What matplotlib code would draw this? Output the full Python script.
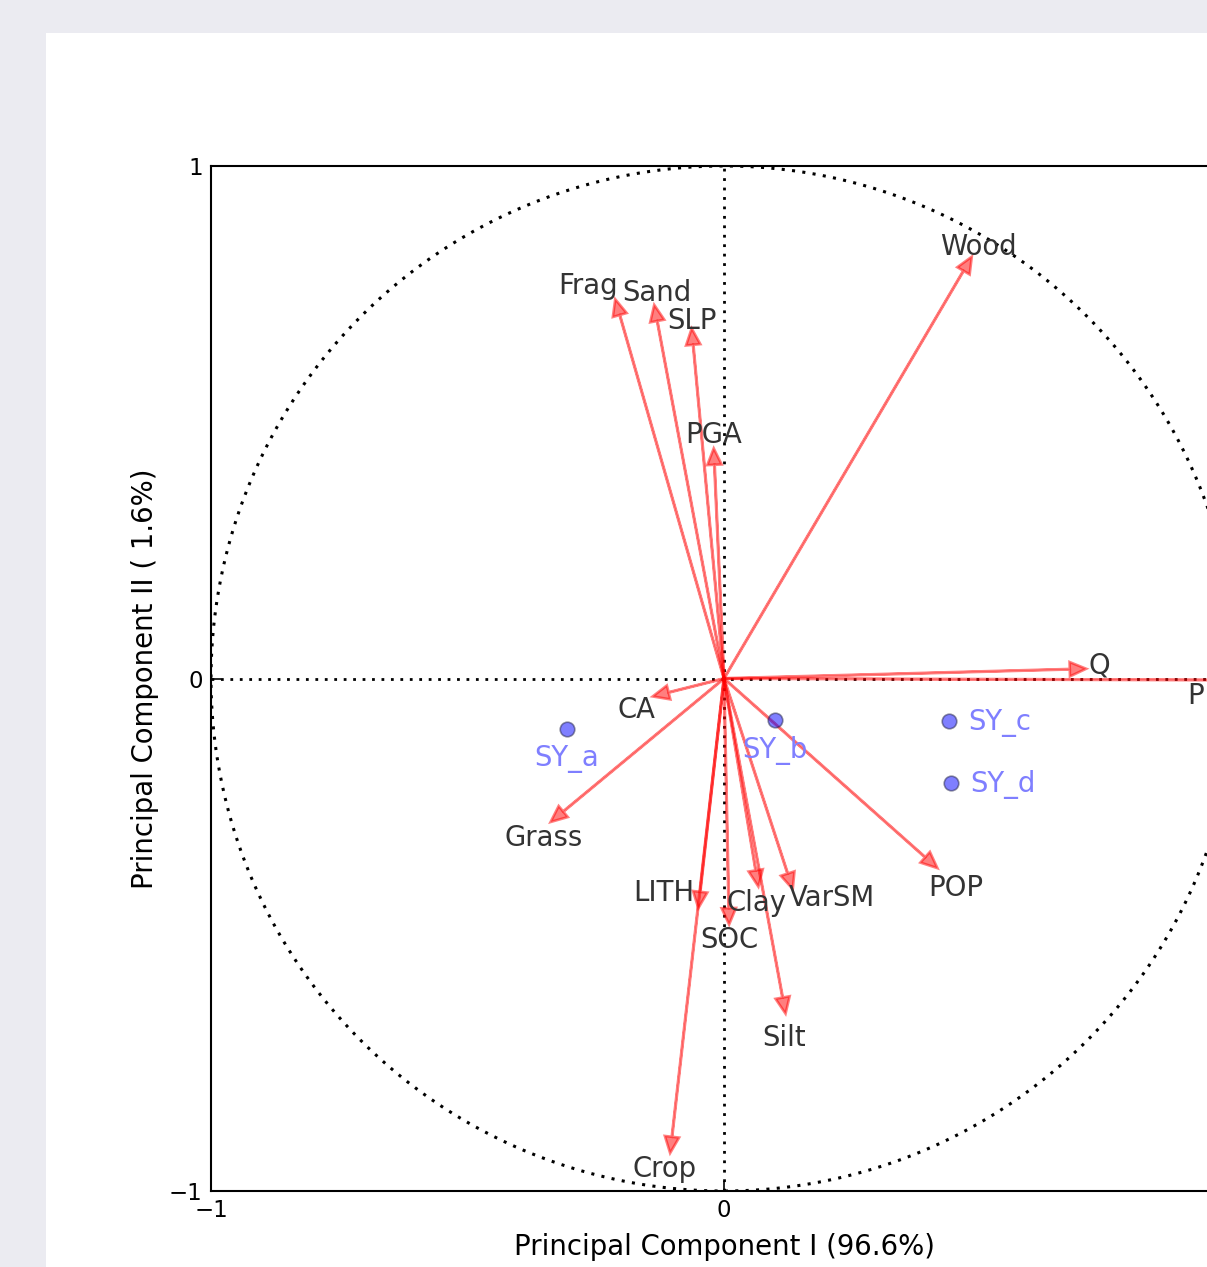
import numpy as np
import matplotlib
matplotlib.use("Agg")
import matplotlib.pyplot as plt
from matplotlib.patches import Rectangle

# PCA loadings of the catchment variables on PC I and PC II
variables = ["Frag", "Sand", "SLP", "PGA", "Wood", "Q", "P", "CA", "Grass",
             "LITH", "SOC", "Clay", "Silt", "VarSM", "POP", "Crop"]
pc1_loading = [-0.212, -0.136, -0.063, -0.020, 0.483, 0.706, 0.985, -0.139, -0.338,
               -0.050, 0.010, 0.067, 0.120, 0.134, 0.416, -0.105]
pc2_loading = [0.740, 0.729, 0.683, 0.449, 0.823, 0.019, -0.003, -0.035, -0.280,
               -0.448, -0.480, -0.406, -0.654, -0.411, -0.370, -0.926]

# sediment-yield sites projected on the same plane
sites = ["SY_a", "SY_b", "SY_c", "SY_d"]
site_pc1 = [-0.307, 0.099, 0.438, 0.442]
site_pc2 = [-0.098, -0.080, -0.083, -0.203]

# label anchor points (data units)
var_label_xy = [(-0.265, 0.765), (-0.131, 0.753), (-0.063, 0.698), (-0.021, 0.475),
                (0.495, 0.841), (0.731, 0.026), (0.920, -0.034), (-0.170, -0.062),
                (-0.352, -0.311), (-0.117, -0.419), (0.010, -0.511), (0.064, -0.439),
                (0.117, -0.702), (0.211, -0.429), (0.452, -0.409), (-0.115, -0.958)]
site_label_xy = [(-0.307, -0.157, "center"), (0.099, -0.140, "center"),
                 (0.476, -0.087, "left"), (0.480, -0.206, "left")]

W, H = 1207, 1267
fig = plt.figure(figsize=(W / 100, H / 100), dpi=100, facecolor="#ebebf1")
page = Rectangle((46 / W, 0), 1 - 46 / W, 1 - 33 / H,
                 transform=fig.transFigure, facecolor="white",
                 edgecolor="none", zorder=-10)
fig.add_artist(page)

ax = fig.add_axes([211 / W, 76 / H, 1026 / W, 1025 / H])
ax.set_zorder(1)
ax.set_facecolor("white")
ax.set_xlim(-1, 1)
ax.set_ylim(-1, 1)

dots = (0, (1, 2.4))
theta = np.linspace(0, 2 * np.pi, 721)
ax.plot(np.cos(theta), np.sin(theta), color="black", lw=2.2, linestyle=dots, zorder=1)
ax.axhline(0, color="black", lw=2.0, linestyle=dots, zorder=1)
ax.axvline(0, color="black", lw=2.0, linestyle=dots, zorder=1)

for name, x, y, (lx, ly) in zip(variables, pc1_loading, pc2_loading, var_label_xy):
    ax.arrow(0, 0, x, y, color="red", alpha=0.5, lw=1.9,
             head_width=0.028, head_length=0.032, length_includes_head=True,
             zorder=3)
    ax.text(lx, ly, name, color="#333333", fontsize=19.8, ha="center",
            va="center", zorder=4)

ax.scatter(site_pc1, site_pc2, s=110, color="blue", alpha=0.5,
           edgecolors="#222244", linewidths=1.2, zorder=5)
for name, (lx, ly, ha) in zip(sites, site_label_xy):
    ax.text(lx, ly, name, color="#7f7fff", fontsize=19.8, ha=ha, va="center",
            zorder=5)

ax.set_xticks([-1, 0, 1])
ax.set_xticklabels(["\u22121", "0", "1"])
ax.set_yticks([-1, 0, 1])
ax.set_yticklabels(["\u22121", "0", "1"])
ax.tick_params(direction="in", length=7, width=1.2, labelsize=16.5, pad=6,
               colors="black")
for sp in ax.spines.values():
    sp.set_linewidth(1.5)
    sp.set_color("black")

ax.set_xlabel("Principal Component I (96.6%)", fontsize=19.8, labelpad=8)
ax.set_ylabel("Principal Component II ( 1.6%)", fontsize=19.8, labelpad=7)

fig.savefig("out.png", dpi=100, facecolor=fig.get_facecolor())
